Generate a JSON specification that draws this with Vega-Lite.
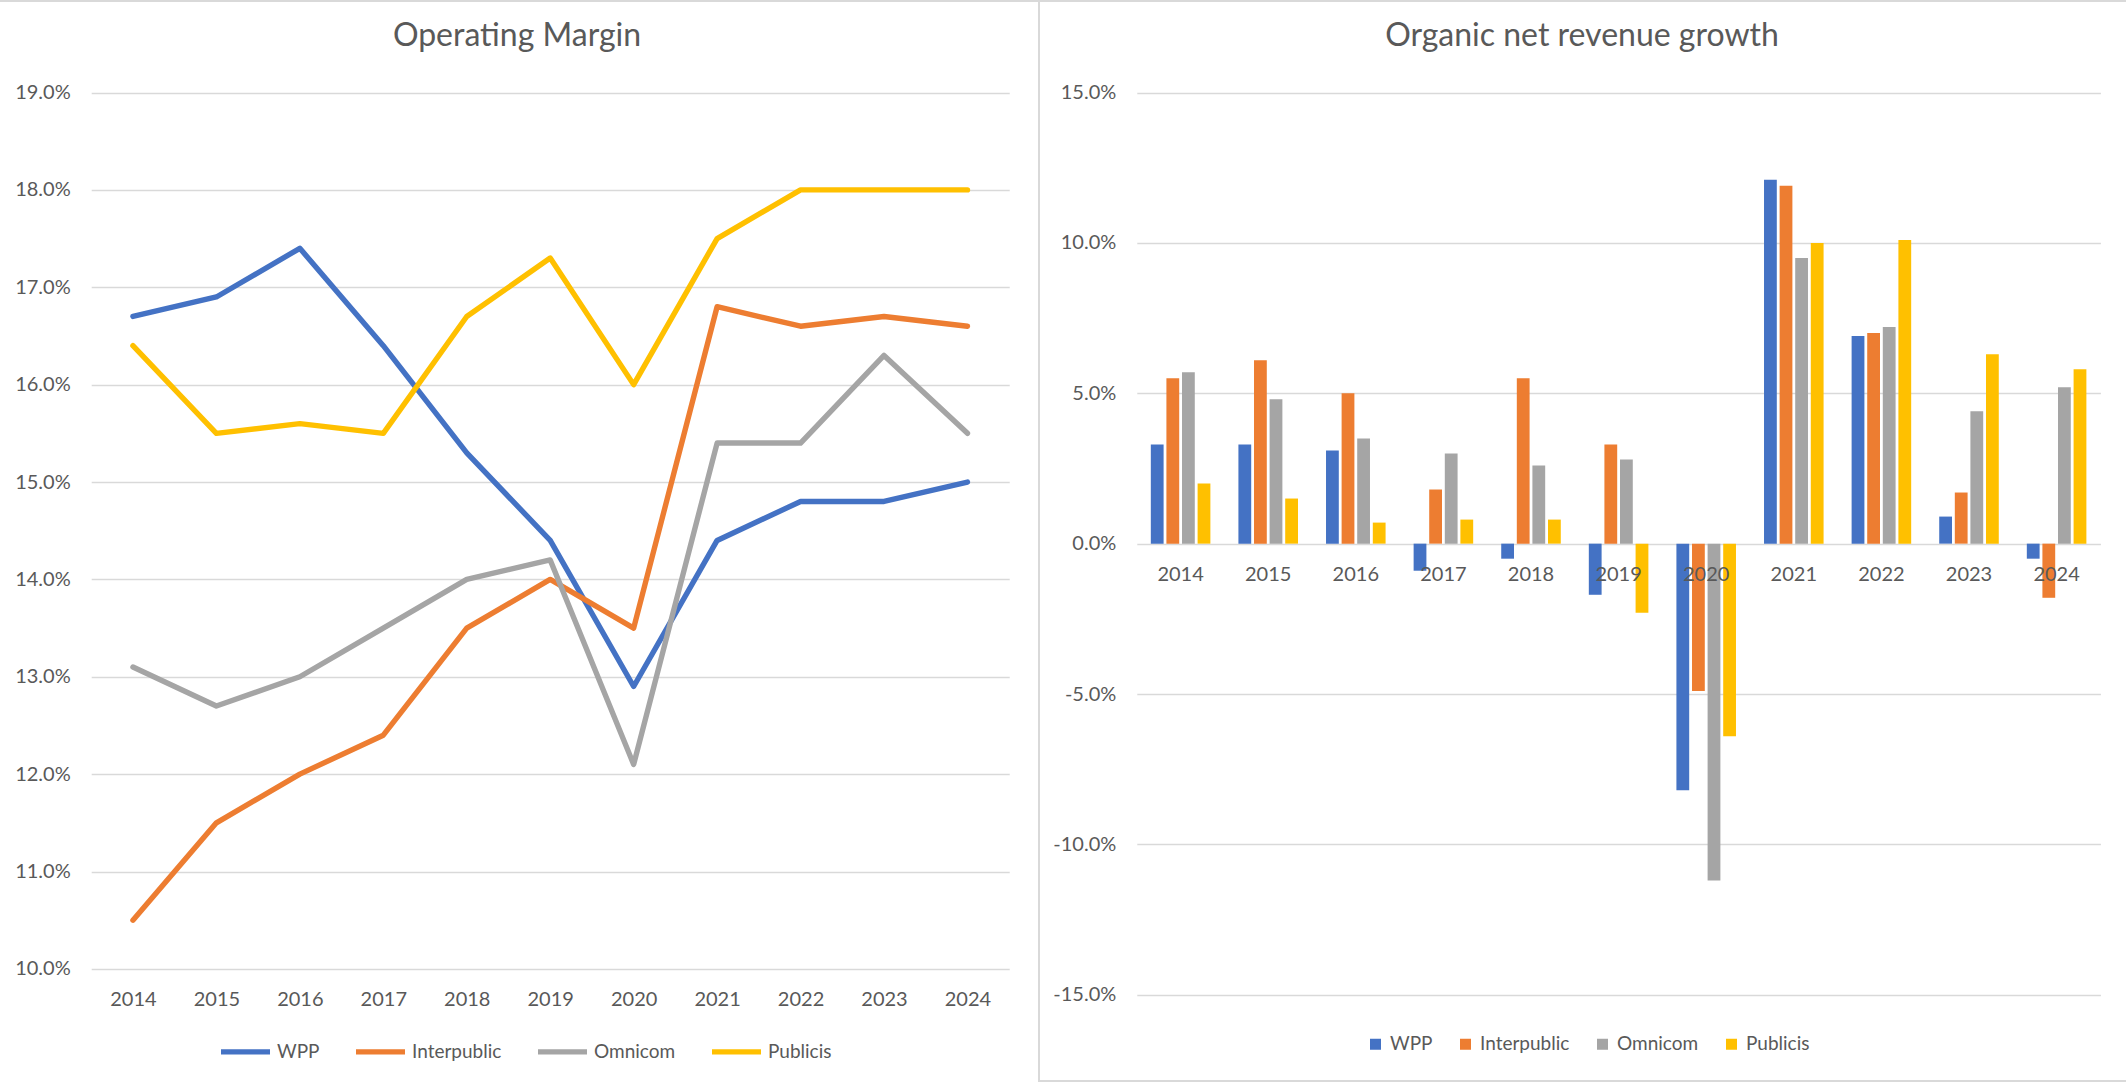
{
  "$schema": "https://vega.github.io/schema/vega-lite/v6.json",
  "autosize": "none",
  "padding": {"left": -2, "top": 1, "right": 2128, "bottom": 1081},
  "background": "white",
  "spacing": 0,
  "bounds": "flush",
  "config": {
    "font": "Lato",
    "view": {"stroke": "#d9d9d9", "strokeWidth": 2},
    "axis": {
      "labelFont": "Lato",
      "labelFontSize": 20,
      "labelColor": "#595959",
      "ticks": false,
      "domain": false,
      "gridColor": "#d9d9d9",
      "gridWidth": 1.7,
      "title": null
    },
    "title": {"font": "Lato", "fontSize": 32, "fontWeight": "normal", "color": "#595959", "baseline": "alphabetic"},
    "legend": {"labelFont": "Lato", "labelFontSize": 19, "labelColor": "#595959", "padding": 0, "title": null}
  },
  "datasets": {
    "margin": [
      {"year": "2014", "company": "WPP", "margin": 0.167},
      {"year": "2015", "company": "WPP", "margin": 0.169},
      {"year": "2016", "company": "WPP", "margin": 0.174},
      {"year": "2017", "company": "WPP", "margin": 0.164},
      {"year": "2018", "company": "WPP", "margin": 0.153},
      {"year": "2019", "company": "WPP", "margin": 0.144},
      {"year": "2020", "company": "WPP", "margin": 0.129},
      {"year": "2021", "company": "WPP", "margin": 0.144},
      {"year": "2022", "company": "WPP", "margin": 0.148},
      {"year": "2023", "company": "WPP", "margin": 0.148},
      {"year": "2024", "company": "WPP", "margin": 0.150},
      {"year": "2014", "company": "Interpublic", "margin": 0.105},
      {"year": "2015", "company": "Interpublic", "margin": 0.115},
      {"year": "2016", "company": "Interpublic", "margin": 0.120},
      {"year": "2017", "company": "Interpublic", "margin": 0.124},
      {"year": "2018", "company": "Interpublic", "margin": 0.135},
      {"year": "2019", "company": "Interpublic", "margin": 0.140},
      {"year": "2020", "company": "Interpublic", "margin": 0.135},
      {"year": "2021", "company": "Interpublic", "margin": 0.168},
      {"year": "2022", "company": "Interpublic", "margin": 0.166},
      {"year": "2023", "company": "Interpublic", "margin": 0.167},
      {"year": "2024", "company": "Interpublic", "margin": 0.166},
      {"year": "2014", "company": "Omnicom", "margin": 0.131},
      {"year": "2015", "company": "Omnicom", "margin": 0.127},
      {"year": "2016", "company": "Omnicom", "margin": 0.130},
      {"year": "2017", "company": "Omnicom", "margin": 0.135},
      {"year": "2018", "company": "Omnicom", "margin": 0.140},
      {"year": "2019", "company": "Omnicom", "margin": 0.142},
      {"year": "2020", "company": "Omnicom", "margin": 0.121},
      {"year": "2021", "company": "Omnicom", "margin": 0.154},
      {"year": "2022", "company": "Omnicom", "margin": 0.154},
      {"year": "2023", "company": "Omnicom", "margin": 0.163},
      {"year": "2024", "company": "Omnicom", "margin": 0.155},
      {"year": "2014", "company": "Publicis", "margin": 0.164},
      {"year": "2015", "company": "Publicis", "margin": 0.155},
      {"year": "2016", "company": "Publicis", "margin": 0.156},
      {"year": "2017", "company": "Publicis", "margin": 0.155},
      {"year": "2018", "company": "Publicis", "margin": 0.167},
      {"year": "2019", "company": "Publicis", "margin": 0.173},
      {"year": "2020", "company": "Publicis", "margin": 0.160},
      {"year": "2021", "company": "Publicis", "margin": 0.175},
      {"year": "2022", "company": "Publicis", "margin": 0.180},
      {"year": "2023", "company": "Publicis", "margin": 0.180},
      {"year": "2024", "company": "Publicis", "margin": 0.180}
    ],
    "growth": [
      {"year": "2014", "company": "WPP", "growth": 0.033},
      {"year": "2014", "company": "Interpublic", "growth": 0.055},
      {"year": "2014", "company": "Omnicom", "growth": 0.057},
      {"year": "2014", "company": "Publicis", "growth": 0.020},
      {"year": "2015", "company": "WPP", "growth": 0.033},
      {"year": "2015", "company": "Interpublic", "growth": 0.061},
      {"year": "2015", "company": "Omnicom", "growth": 0.048},
      {"year": "2015", "company": "Publicis", "growth": 0.015},
      {"year": "2016", "company": "WPP", "growth": 0.031},
      {"year": "2016", "company": "Interpublic", "growth": 0.050},
      {"year": "2016", "company": "Omnicom", "growth": 0.035},
      {"year": "2016", "company": "Publicis", "growth": 0.007},
      {"year": "2017", "company": "WPP", "growth": -0.009},
      {"year": "2017", "company": "Interpublic", "growth": 0.018},
      {"year": "2017", "company": "Omnicom", "growth": 0.030},
      {"year": "2017", "company": "Publicis", "growth": 0.008},
      {"year": "2018", "company": "WPP", "growth": -0.005},
      {"year": "2018", "company": "Interpublic", "growth": 0.055},
      {"year": "2018", "company": "Omnicom", "growth": 0.026},
      {"year": "2018", "company": "Publicis", "growth": 0.008},
      {"year": "2019", "company": "WPP", "growth": -0.017},
      {"year": "2019", "company": "Interpublic", "growth": 0.033},
      {"year": "2019", "company": "Omnicom", "growth": 0.028},
      {"year": "2019", "company": "Publicis", "growth": -0.023},
      {"year": "2020", "company": "WPP", "growth": -0.082},
      {"year": "2020", "company": "Interpublic", "growth": -0.049},
      {"year": "2020", "company": "Omnicom", "growth": -0.112},
      {"year": "2020", "company": "Publicis", "growth": -0.064},
      {"year": "2021", "company": "WPP", "growth": 0.121},
      {"year": "2021", "company": "Interpublic", "growth": 0.119},
      {"year": "2021", "company": "Omnicom", "growth": 0.095},
      {"year": "2021", "company": "Publicis", "growth": 0.100},
      {"year": "2022", "company": "WPP", "growth": 0.069},
      {"year": "2022", "company": "Interpublic", "growth": 0.070},
      {"year": "2022", "company": "Omnicom", "growth": 0.072},
      {"year": "2022", "company": "Publicis", "growth": 0.101},
      {"year": "2023", "company": "WPP", "growth": 0.009},
      {"year": "2023", "company": "Interpublic", "growth": 0.017},
      {"year": "2023", "company": "Omnicom", "growth": 0.044},
      {"year": "2023", "company": "Publicis", "growth": 0.063},
      {"year": "2024", "company": "WPP", "growth": -0.005},
      {"year": "2024", "company": "Interpublic", "growth": -0.018},
      {"year": "2024", "company": "Omnicom", "growth": 0.052},
      {"year": "2024", "company": "Publicis", "growth": 0.058}
    ]
  },
  "resolve": {"scale": {"color": "independent"}, "legend": {"color": "independent"}},
  "hconcat": [
    {
      "width": 1041,
      "height": 1100,
      "title": {"text": "Operating Margin", "frame": "group", "anchor": "middle", "offset": -52, "dx": -1.5},
      "data": {"name": "margin"},
      "mark": {"type": "line", "strokeWidth": 5.4, "strokeCap": "round", "strokeJoin": "round"},
      "encoding": {
        "x": {
          "field": "year", "type": "ordinal",
          "scale": {"type": "point", "range": [93.2, 1011.2], "padding": 0.5},
          "axis": {"title": null, "labelAngle": 0, "grid": false, "offset": -132.1, "labelPadding": 21}
        },
        "y": {
          "field": "margin", "type": "quantitative",
          "scale": {"domain": [0.10, 0.19], "range": [967.9, 91.5], "zero": false, "nice": false},
          "axis": {"title": null, "format": ".1%", "values": [0.10, 0.11, 0.12, 0.13, 0.14, 0.15, 0.16, 0.17, 0.18, 0.19], "offset": -93.2, "labelPadding": 21}
        },
        "color": {
          "field": "company", "type": "nominal",
          "scale": {"domain": ["WPP", "Interpublic", "Omnicom", "Publicis"], "range": ["#4472C4", "#ED7D31", "#A5A5A5", "#FFC000"]},
          "legend": {"orient": "none", "legendX": 220, "legendY": 1023, "direction": "horizontal", "title": null, "symbolType": "stroke", "symbolStrokeWidth": 5.4, "symbolSize": 2401, "labelOffset": 4, "columnPadding": 25}
        }
      }
    },
    {
      "width": 1090,
      "height": 1080,
      "title": {"text": "Organic net revenue growth", "frame": "group", "anchor": "middle", "offset": -52, "dx": -2},
      "data": {"name": "growth"},
      "mark": {"type": "bar"},
      "encoding": {
        "x": {
          "field": "year", "type": "ordinal",
          "scale": {"type": "band", "range": [97.8, 1061.4], "paddingInner": 0.32, "paddingOuter": 0.16},
          "axis": {"title": null, "labelAngle": 0, "grid": false, "offset": -537.35, "labelPadding": 21, "zindex": 1}
        },
        "xOffset": {
          "field": "company", "type": "nominal",
          "sort": ["WPP", "Interpublic", "Omnicom", "Publicis"],
          "scale": {"paddingInner": 0.18, "paddingOuter": 0}
        },
        "y": {
          "field": "growth", "type": "quantitative",
          "scale": {"domain": [-0.15, 0.15], "range": [993.8, 91.5], "zero": false, "nice": false},
          "axis": {"title": null, "format": ".1%", "values": [-0.15, -0.10, -0.05, 0, 0.05, 0.10, 0.15], "offset": -97.8, "labelPadding": 21, "labelExpr": "replace(datum.label, '\u2212', '-')"}
        },
        "color": {
          "field": "company", "type": "nominal",
          "scale": {"domain": ["WPP", "Interpublic", "Omnicom", "Publicis"], "range": ["#4472C4", "#ED7D31", "#A5A5A5", "#FFC000"]},
          "legend": {"orient": "none", "legendX": 327, "legendY": 1033.5, "direction": "horizontal", "title": null, "symbolType": "square", "symbolSize": 121, "symbolStrokeWidth": 0, "labelOffset": 5, "columnPadding": 23}
        }
      }
    }
  ]
}
